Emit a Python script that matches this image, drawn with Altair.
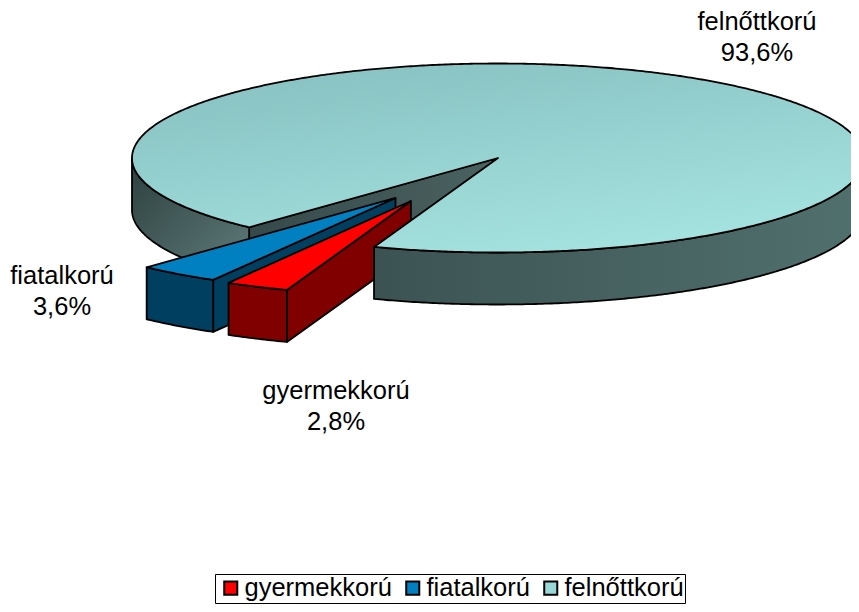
import numpy as np
import pandas as pd
import altair as alt

categories = ["gyermekkorú", "fiatalkorú", "felnőttkorú"]
shares = [2.8, 3.6, 93.6]
share_labels = ["2,8%", "3,6%", "93,6%"]
label_x = [336, 62, 757]
label_y = [391, 276, 22]
legend_colors = ["#ff0000", "#0080c0", "#99d8d8"]
# pie drawing parameters
CX, CY, RX, RY, DEPTH = 498, 158, 366, 94.5, 52
START = 199.8
EXPLODE = {"gyermekkorú": (-0.238, 0.455), "fiatalkorú": (-0.28, 0.423), "felnőttkorú": (0, 0)}
W, H = 843, 596
FONT = "Liberation Sans"
SW = 1.8

xs = alt.Scale(domain=[8, 8 + W], nice=False, zero=False)
ys = alt.Scale(domain=[8, 8 + H], reverse=True, nice=False, zero=False)

def grad(c0, c1, x1=0, y1=0, x2=1, y2=1):
    return alt.Gradient(gradient="linear", x1=x1, y1=y1, x2=x2, y2=y2,
                        stops=[alt.GradientStop(color=c0, offset=0), alt.GradientStop(color=c1, offset=1)])

def rim(a, cx, cy, dz=0):
    r = np.radians(a)
    return cx + RX * np.sin(r), cy - RY * np.cos(r) + dz

def poly(points, fill):
    pts = list(points) + [points[0]]
    df = pd.DataFrame({"px": [p[0] for p in pts], "py": [p[1] for p in pts], "o": range(len(pts))})
    return alt.Chart(df).mark_line(fill=fill, stroke="black", strokeWidth=SW, strokeJoin="round", clip=True).encode(
        x=alt.X("px:Q", scale=xs, axis=None),
        y=alt.Y("py:Q", scale=ys, axis=None),
        order="o:Q",
    )

def arc_pts(a0, a1, cx, cy, dz=0):
    n = max(2, int(abs(a1 - a0) * 2))
    return [rim(a, cx, cy, dz) for a in np.linspace(a0, a1, n)]

def wall(a0, a1, cx, cy, fill):
    return poly(arc_pts(a0, a1, cx, cy) + arc_pts(a1, a0, cx, cy, DEPTH), fill)

def face(a, cx, cy, fill):
    e = rim(a, cx, cy)
    return poly([(cx, cy), e, (e[0], e[1] + DEPTH), (cx, cy + DEPTH)], fill)

angles = np.cumsum([0] + [s * 3.6 for s in shares]) + START
layers = []

# adult slice: parts behind the exploded slices
a0, a1 = angles[2], angles[3]
layers.append(face(a0, CX, CY, grad("#36494a", "#4a6361", 0, 0, 1, 0)))
layers.append(wall(a0, 270, CX, CY, grad("#2c403f", "#607d7b", 0, 0, 1, 1)))

# young slice
dx, dy = EXPLODE["fiatalkorú"]
cx, cy = CX + dx * RX, CY + dy * RY
layers.append(face(angles[1], cx, cy, "#003f60"))
layers.append(wall(angles[1], angles[2], cx, cy, "#003f60"))
layers.append(poly(arc_pts(angles[1], angles[2], cx, cy) + [(cx, cy)], "#0080c0"))

# child slice
dx, dy = EXPLODE["gyermekkorú"]
cx, cy = CX + dx * RX, CY + dy * RY
layers.append(face(angles[0], cx, cy, "#800000"))
layers.append(wall(angles[0], angles[1], cx, cy, "#800000"))
layers.append(poly(arc_pts(angles[0], angles[1], cx, cy) + [(cx, cy)], "#ff0000"))

# adult slice: parts in front of them
layers.append(wall(90, a1 - 360, CX, CY, grad("#50706e", "#3c5353", 1, 0, 0, 0)))
layers.append(poly(arc_pts(a0, a1, CX, CY) + [(CX, CY)], grad("#86c0c0", "#a4e2df", 0.1, 0, 0.6, 1)))

labels = pd.DataFrame({"c": categories, "p": share_labels, "lx": label_x, "ly": label_y})
labels["ly2"] = labels["ly"] + 31
for col, field in (("ly", "c"), ("ly2", "p")):
    layers.append(alt.Chart(labels).mark_text(font=FONT, fontSize=25.5, color="black", align="center", baseline="middle").encode(
        x=alt.X("lx:Q", scale=xs, axis=None),
        y=alt.Y(f"{col}:Q", scale=ys, axis=None),
        text=f"{field}:N",
    ))

legend = alt.Legend(
    title=None, orient="none", legendX=207, legendY=566, direction="horizontal", columns=3,
    symbolType="square", symbolSize=170, symbolStrokeColor="black", symbolStrokeWidth=2, symbolOpacity=1,
    symbolOffset=2, labelFont=FONT, labelFontSize=25.5, labelColor="black", labelLimit=300, labelOffset=1,
    strokeColor="black", fillColor="white", padding=1, columnPadding=6,
)
key = pd.DataFrame({"c": categories, "qx": [CX] * 3, "qy": [CY] * 3})
layers.append(alt.Chart(key).mark_point(filled=True, size=1, opacity=0).encode(
    x=alt.X("qx:Q", scale=xs, axis=None),
    y=alt.Y("qy:Q", scale=ys, axis=None),
    color=alt.Color("c:N", scale=alt.Scale(domain=categories, range=legend_colors), sort=categories, legend=legend),
))

chart = alt.layer(*layers).properties(
    width=W, height=H, padding=0, autosize=alt.AutoSizeParams(type="none"), background="white",
).configure_view(stroke=None)
chart.save("out.html", embed_options={"renderer": "svg", "actions": False})
